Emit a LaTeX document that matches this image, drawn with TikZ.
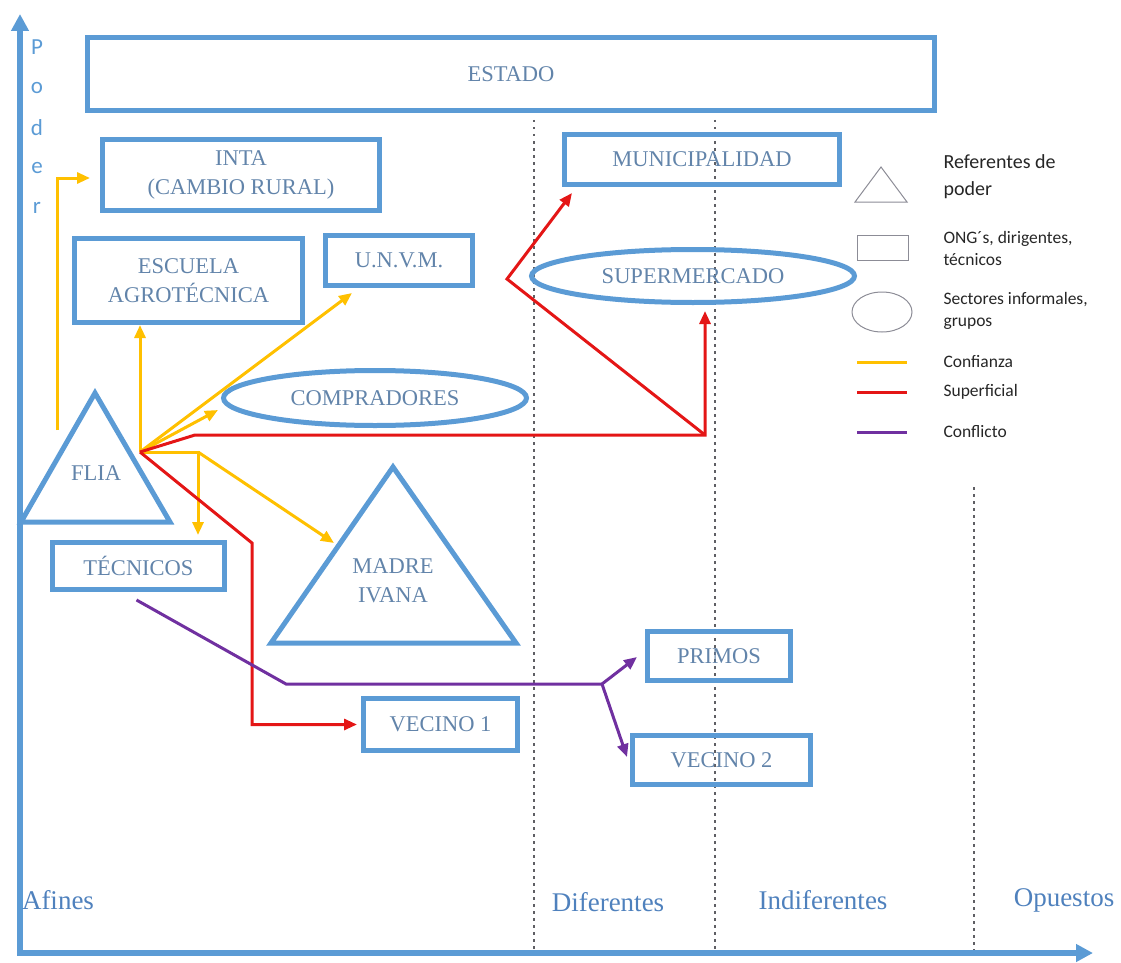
\documentclass[tikz,border=0pt]{standalone}
\usepackage{fontspec}
\setmainfont{Liberation Serif}
\newfontfamily\legendfont{Carlito}
\usetikzlibrary{arrows.meta,shapes.geometric,calc}

\definecolor{boxblue}{RGB}{91,155,213}
\definecolor{txtblue}{RGB}{98,132,170}
\definecolor{axisblue}{RGB}{91,155,213}
\definecolor{zoneblue}{RGB}{79,129,189}
\definecolor{confcol}{RGB}{255,192,0}
\definecolor{supcol}{RGB}{228,22,22}
\definecolor{conflcol}{RGB}{112,48,160}
\definecolor{dotgray}{RGB}{95,95,100}
\definecolor{leggray}{RGB}{140,140,150}

\tikzset{
  box/.style={draw=boxblue, line width=5pt, inner sep=0pt, text=txtblue, align=center,
    font=\fontsize{22.5}{29}\selectfont},
  oval/.style={box, ellipse},
  trilabel/.style={text=txtblue, align=center, font=\fontsize{22.5}{29}\selectfont},
  headtip/.style={-{Triangle[length=13pt,width=11pt]}},
  confianza/.style={draw=confcol, line width=3pt, headtip},
  superficial/.style={draw=supcol, line width=3pt, headtip},
  conflicto/.style={draw=conflcol, line width=3pt, headtip},
  zona/.style={draw=dotgray, line width=2.5pt, dash pattern=on 2.5pt off 4.5pt},
  zonalabel/.style={text=zoneblue, font=\fontsize{27}{30}\selectfont},
  poder/.style={text=axisblue, font=\legendfont\fontsize{23}{25}\selectfont},
  legshape/.style={draw=leggray, line width=1pt},
  legtext/.style={anchor=west, align=left, text=black!85, font=\legendfont\fontsize{17.5}{22}\selectfont}
}

\begin{document}
\begin{tikzpicture}[x=1pt, y=-1pt]
    \useasboundingbox (0,0) rectangle (1121,963);

    % Zone separators
    \draw[zona] (534,120) -- (534,953);
    \draw[zona] (715,120) -- (715,953);
    \draw[zona] (974,487) -- (974,953);

    % Axes
    \coordinate (origen) at (20,953);
    \draw[axisblue, line width=6pt, -{Triangle[length=17pt,width=17pt]}] (origen) -- (20,14);
    \draw[axisblue, line width=6pt, -{Triangle[length=17pt,width=17pt]}] (17,953) -- (1093,953);
    \foreach \letra/\py in {P/47,o/88,d/128,e/168,r/208} {
        \node[poder] (poder-\letra) at (37,\py) {\letra};
    }

    % Actors
    \node[box, minimum width=847pt, minimum height=73pt] (estado) at (511,74) {ESTADO};
    \node[box, minimum width=277pt, minimum height=71pt] (inta) at (241,175) {INTA\\(CAMBIO RURAL)};
    \node[box, minimum width=228pt, minimum height=84pt] (escuela) at (188.5,280.5) {ESCUELA\\AGROTÉCNICA};
    \node[box, minimum width=147pt, minimum height=50pt] (unvm) at (399,260.5) {U.N.V.M.};
    \node[box, minimum width=275pt, minimum height=50pt] (muni) at (702,159.5) {MUNICIPALIDAD};
    \node[oval, minimum width=323pt, minimum height=53pt] (super) at (693,276) {SUPERMERCADO};
    \node[oval, minimum width=303pt, minimum height=55pt] (compradores) at (375,398) {COMPRADORES};
    \node[box, minimum width=172pt, minimum height=47pt] (tecnicos) at (138.5,566) {TÉCNICOS};
    \node[box, minimum width=143pt, minimum height=49pt] (primos) at (719,656) {PRIMOS};
    \node[box, minimum width=154pt, minimum height=52pt] (vecino1) at (440.5,724.5) {VECINO 1};
    \node[box, minimum width=178pt, minimum height=49pt] (vecino2) at (721.5,760) {VECINO 2};

    % Power referents (triangles)
    \draw[boxblue, line width=5pt, line join=miter] (21,522) -- (170,522) -- (95,393) -- cycle;
    \node[trilabel] (flia) at (96,473) {FLIA};
    \draw[boxblue, line width=5pt, line join=miter] (271,643) -- (516,643) -- (393,467) -- cycle;
    \node[trilabel] (madre) at (393,581) {MADRE\\IVANA};

    % Confianza
    \coordinate (hub) at (140,452);
    \coordinate (pie) at (57,430);
    \coordinate (codo) at (198,452);
    \draw[confianza] (pie) |- ($(inta.west)+(-10,3)$);
    \draw[confianza] (hub) -- (hub |- escuela.south);
    \draw[confianza] (hub) -- ($(unvm.south west)+(29,5)$);
    \draw[confianza] (hub) -- ($(compradores.west)+(-3,12)$);
    \draw[confianza] (hub) -- (codo) -- ($(tecnicos.north -| codo)+(0,-5)$);
    \draw[confianza] (codo) -- ($(madre)+(-59,-38)$);

    % Superficial
    \coordinate (esquina) at (705,435);
    \coordinate (vertice) at (507,279);
    \coordinate (baja) at (252,543);
    \draw[superficial] (hub) -- (195,435) -- (esquina) -- ($(super.south)+(12,6)$);
    \draw[superficial] (esquina) -- (vertice) -- ($(muni.south west)+(10,6)$);
    \draw[superficial] (hub) -- (baja) -- (baja |- vecino1.west) -- ($(vecino1.west)+(-4,0)$);

    % Conflicto
    \coordinate (horca) at (602,684);
    \draw[draw=conflcol, line width=3pt] ($(tecnicos.south)+(-2,8)$) -- (286,684) -- (horca);
    \draw[conflicto] (horca) -- ($(primos.west)+(-8,1)$);
    \draw[conflicto] (horca) -- ($(vecino2.west)+(-3,-3)$);

    % Zones
    \node[zonalabel] (afines) at (58,900) {Afines};
    \node[zonalabel] (diferentes) at (608,902) {Diferentes};
    \node[zonalabel] (indiferentes) at (823,900) {Indiferentes};
    \node[zonalabel] (opuestos) at (1064,900) {Opuestos};

    % Legend
    \draw[legshape] (855,202) -- (907,202) -- (881,167) -- cycle;
    \draw[legshape] (857,235) rectangle (908,260);
    \draw[legshape] (882,312) ellipse [x radius=30, y radius=20];
    \draw[draw=confcol, line width=3pt] (857,362) -- (907,362);
    \draw[draw=supcol, line width=3pt] (857,392) -- (907,392);
    \draw[draw=conflcol, line width=3pt] (857,432) -- (907,432);
    \node[legtext, font=\legendfont\fontsize{20}{27}\selectfont] (leg-ref) at (940,177) {Referentes de\\poder};
    \node[legtext] (leg-ong) at (940,248) {ONG´s, dirigentes,\\técnicos};
    \node[legtext] (leg-sec) at (940,311) {Sectores informales,\\grupos};
    \node[legtext] (leg-conf) at (940,362) {Confianza};
    \node[legtext] (leg-sup) at (940,392) {Superficial};
    \node[legtext] (leg-confl) at (940,432) {Conflicto};
\end{tikzpicture}
\end{document}
